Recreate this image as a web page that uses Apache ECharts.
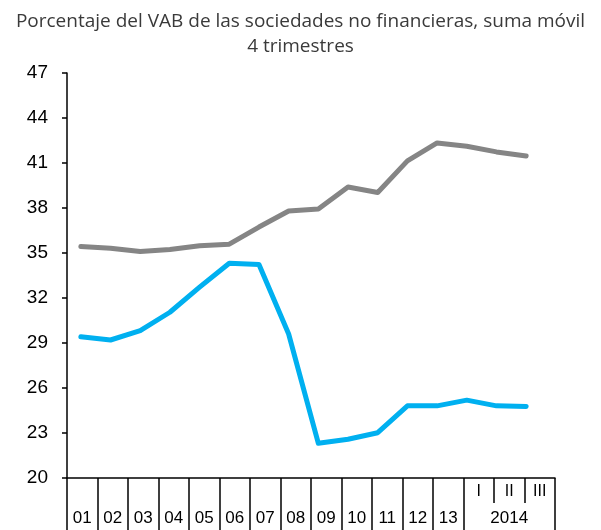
<!DOCTYPE html>
<html><head><meta charset="utf-8">
<script src="https://cdn.jsdelivr.net/npm/echarts@6/dist/echarts.min.js"></script>
<style>html,body{margin:0;padding:0;background:#fff}#c{width:601px;height:530px}</style>
</head><body><div id="c"></div>
<script>
var categories = ['01','02','03','04','05','06','07','08','09','10','11','12','13','I','II','III'];
var groupLabel = '2014';
var seriesGray = [35.44,35.32,35.10,35.24,35.48,35.59,36.73,37.80,37.93,39.40,39.03,41.14,42.34,42.12,41.74,41.47];
var seriesBlue = [29.42,29.20,29.82,31.05,32.72,34.32,34.23,29.60,22.31,22.58,23.02,24.81,24.81,25.19,24.81,24.77];
var yTicks = [20,23,26,29,32,35,38,41,44,47];
var titleText = 'Porcentaje del VAB de las sociedades no financieras, suma móvil\n4 trimestres';

var nYears = 13;
var longTicks = [];
for (var i = 0; i <= nYears; i++) longTicks.push(i);
longTicks.push(categories.length);
var shortTicks = [];
for (var j = nYears + 1; j < categories.length; j++) shortTicks.push(j);

var chart = echarts.init(document.getElementById('c'));
chart.setOption({
  animation: false,
  backgroundColor: '#fff',
  title: {
    text: titleText, left: 'center', top: 4,
    textStyle: {fontFamily: 'Open Sans', fontWeight: 'normal', fontSize: 19, color: '#3a3a3a', lineHeight: 25}
  },
  grid: [
    {left: 66, top: 73, width: 475, height: 405},
    {left: 67, top: 73, width: 488, height: 405}
  ],
  xAxis: [
    {type: 'category', gridIndex: 0, data: categories, boundaryGap: true, show: false},
    {type: 'category', gridIndex: 1, data: categories, boundaryGap: true,
      axisLine: {show: true, lineStyle: {color: '#000', width: 1.5}},
      axisTick: {show: false},
      axisLabel: {
        interval: 0, margin: 1,
        formatter: function (v, idx) {
          if (idx < nYears) return '{q| }\n{y|' + v + '}';
          if (idx === nYears + 1) return '{q|' + v + '}\n{y|' + groupLabel + '}';
          return '{q|' + v + '}\n{y| }';
        },
        rich: {
          q: {fontFamily: 'Liberation Sans', fontSize: 16, color: '#000', lineHeight: 26},
          y: {fontFamily: 'Liberation Sans', fontSize: 17, color: '#000', lineHeight: 26}
        }
      },
      splitLine: {show: false}
    },
    {type: 'value', gridIndex: 1, min: 0, max: categories.length, position: 'bottom',
      axisLine: {show: false}, axisLabel: {show: false}, splitLine: {show: false},
      axisTick: {show: true, customValues: longTicks, length: 55, lineStyle: {color: '#000', width: 1.5}}
    },
    {type: 'value', gridIndex: 1, min: 0, max: categories.length, position: 'bottom',
      axisLine: {show: false}, axisLabel: {show: false}, splitLine: {show: false},
      axisTick: {show: true, customValues: shortTicks, length: 25, lineStyle: {color: '#000', width: 1.5}}
    }
  ],
  yAxis: [
    {type: 'value', gridIndex: 0, min: yTicks[0], max: yTicks[yTicks.length - 1], interval: 3, show: false},
    {type: 'value', gridIndex: 1, min: yTicks[0], max: yTicks[yTicks.length - 1], interval: 3,
      axisLine: {show: true, lineStyle: {color: '#000', width: 1.5}},
      axisTick: {show: true, length: 5, lineStyle: {color: '#000', width: 1.5}},
      axisLabel: {margin: 19, fontFamily: 'Liberation Sans', fontSize: 19, color: '#000'},
      splitLine: {show: false}
    }
  ],
  series: [
    {type: 'line', xAxisIndex: 0, yAxisIndex: 0, data: seriesGray, symbol: 'none',
      lineStyle: {color: '#858585', width: 5, cap: 'round', join: 'round'}},
    {type: 'line', xAxisIndex: 0, yAxisIndex: 0, data: seriesBlue, symbol: 'none',
      lineStyle: {color: '#00b0f0', width: 5, cap: 'round', join: 'round'}}
  ]
});
</script></body></html>
